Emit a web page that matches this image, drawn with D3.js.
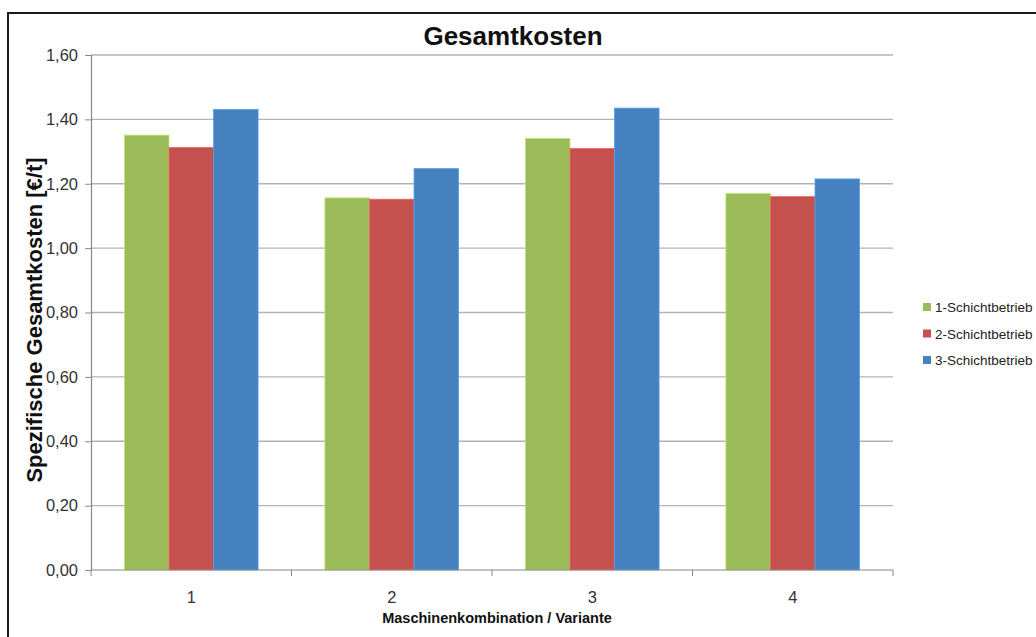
<!DOCTYPE html>
<html>
<head>
<meta charset="utf-8">
<script src="https://cdn.jsdelivr.net/npm/d3@7"></script>
<style>
  html, body { margin: 0; padding: 0; background: #fff; overflow: hidden; }
  svg { display: block; font-family: "Liberation Sans", Arial, sans-serif; }
</style>
</head>
<body>
<svg id="chart" width="1036" height="637"></svg>
<script>
// Variants (x categories) and series
const categories = ["1", "2", "3", "4"];
const seriesNames = ["1-Schichtbetrieb", "2-Schichtbetrieb", "3-Schichtbetrieb"];
const schicht1 = [1.351, 1.156, 1.341, 1.170];
const schicht2 = [1.313, 1.152, 1.310, 1.160];
const schicht3 = [1.431, 1.247, 1.435, 1.215];
const seriesColors = ["#9BBB59", "#C5514F", "#4581BF"];
const yTicks = [0, 0.2, 0.4, 0.6, 0.8, 1.0, 1.2, 1.4, 1.6];

const seriesValues = [schicht1, schicht2, schicht3];

const svg = d3.select("#chart");
const margin = { left: 91, right: 143, top: 55, bottom: 67 };
const W = 1036, H = 637;
const plotW = W - margin.left - margin.right;
const plotH = H - margin.top - margin.bottom;

// Frame around the chart
svg.append("path")
  .attr("d", `M8,${H + 5} L8,13 L${W + 5},13`)
  .attr("fill", "none")
  .attr("stroke", "#1a1a1a")
  .attr("stroke-width", 2);

const g = svg.append("g").attr("transform", `translate(${margin.left},${margin.top})`);

const x0 = d3.scaleBand().domain(categories).range([0, plotW]).paddingInner(0.3333).paddingOuter(0.1667);
const x1 = d3.scaleBand().domain(seriesNames).range([0, x0.bandwidth()]);
const y = d3.scaleLinear().domain([0, 1.6]).range([plotH, 0]);

const fmt = v => d3.format(".2f")(v).replace(".", ",");

// Horizontal gridlines
g.append("g")
  .selectAll("line")
  .data(yTicks.filter(t => t > 0))
  .join("line")
  .attr("x1", 0).attr("x2", plotW)
  .attr("y1", d => y(d)).attr("y2", d => y(d))
  .attr("stroke", "#B3B3B3")
  .attr("stroke-width", 1.3);

// Bars
const groups = g.append("g")
  .selectAll("g")
  .data(categories)
  .join("g")
  .attr("transform", d => `translate(${x0(d)},0)`);

groups.selectAll("rect")
  .data((c, i) => seriesNames.map((s, j) => ({ s, v: seriesValues[j][i], color: seriesColors[j] })))
  .join("rect")
  .attr("x", d => x1(d.s))
  .attr("width", x1.bandwidth())
  .attr("y", d => y(d.v))
  .attr("height", d => y(0) - y(d.v))
  .attr("fill", d => d.color)
  .attr("stroke", d => d3.color(d.color).brighter(0.6))
  .attr("stroke-width", 0.8);

// Y axis
const yAxis = d3.axisLeft(y).tickValues(yTicks).tickFormat(fmt).tickSize(6).tickPadding(7);
const ya = g.append("g").call(yAxis);
ya.select(".domain").attr("stroke", "#888").attr("stroke-width", 1.2);
ya.selectAll(".tick line").attr("stroke", "#888");
ya.selectAll(".tick text").attr("fill", "#333").style("font-size", "16.5px").style("font-family", "Liberation Sans, Arial, sans-serif");

// X axis with boundary ticks between categories
const xa = g.append("g").attr("transform", `translate(0,${plotH})`);
xa.append("line").attr("x1", 0).attr("x2", plotW).attr("stroke", "#888").attr("stroke-width", 1.2);
const step = x0.step();
xa.selectAll("line.b")
  .data(d3.range(categories.length + 1))
  .join("line")
  .attr("class", "b")
  .attr("x1", i => i * step).attr("x2", i => i * step)
  .attr("y1", 0).attr("y2", 6)
  .attr("stroke", "#888");
xa.selectAll("text")
  .data(categories)
  .join("text")
  .attr("x", d => x0(d) + x0.bandwidth() / 2)
  .attr("y", 33)
  .attr("text-anchor", "middle")
  .attr("fill", "#333")
  .style("font-size", "16.5px")
  .text(d => d);

// Titles
svg.append("text")
  .attr("x", 513).attr("y", 45)
  .attr("text-anchor", "middle")
  .style("font-size", "26px").style("font-weight", "bold")
  .attr("fill", "#111")
  .text("Gesamtkosten");

svg.append("text")
  .attr("x", 497).attr("y", 623)
  .attr("text-anchor", "middle")
  .style("font-size", "14.5px").style("font-weight", "bold")
  .attr("fill", "#111")
  .text("Maschinenkombination / Variante");

svg.append("text")
  .attr("transform", "translate(42,320) rotate(-90)")
  .attr("text-anchor", "middle")
  .style("font-size", "22px").style("font-weight", "bold")
  .attr("fill", "#111")
  .text("Spezifische Gesamtkosten [€/t]");

// Legend
const legend = svg.append("g").attr("transform", "translate(923,303)");
const li = legend.selectAll("g")
  .data(seriesNames)
  .join("g")
  .attr("transform", (d, i) => `translate(0,${i * 26.5})`);
li.append("rect").attr("width", 8).attr("height", 8).attr("fill", (d, i) => seriesColors[i]);
li.append("text")
  .attr("x", 12).attr("y", 9)
  .style("font-size", "13.5px")
  .attr("fill", "#222")
  .text(d => d);
</script>
</body>
</html>
